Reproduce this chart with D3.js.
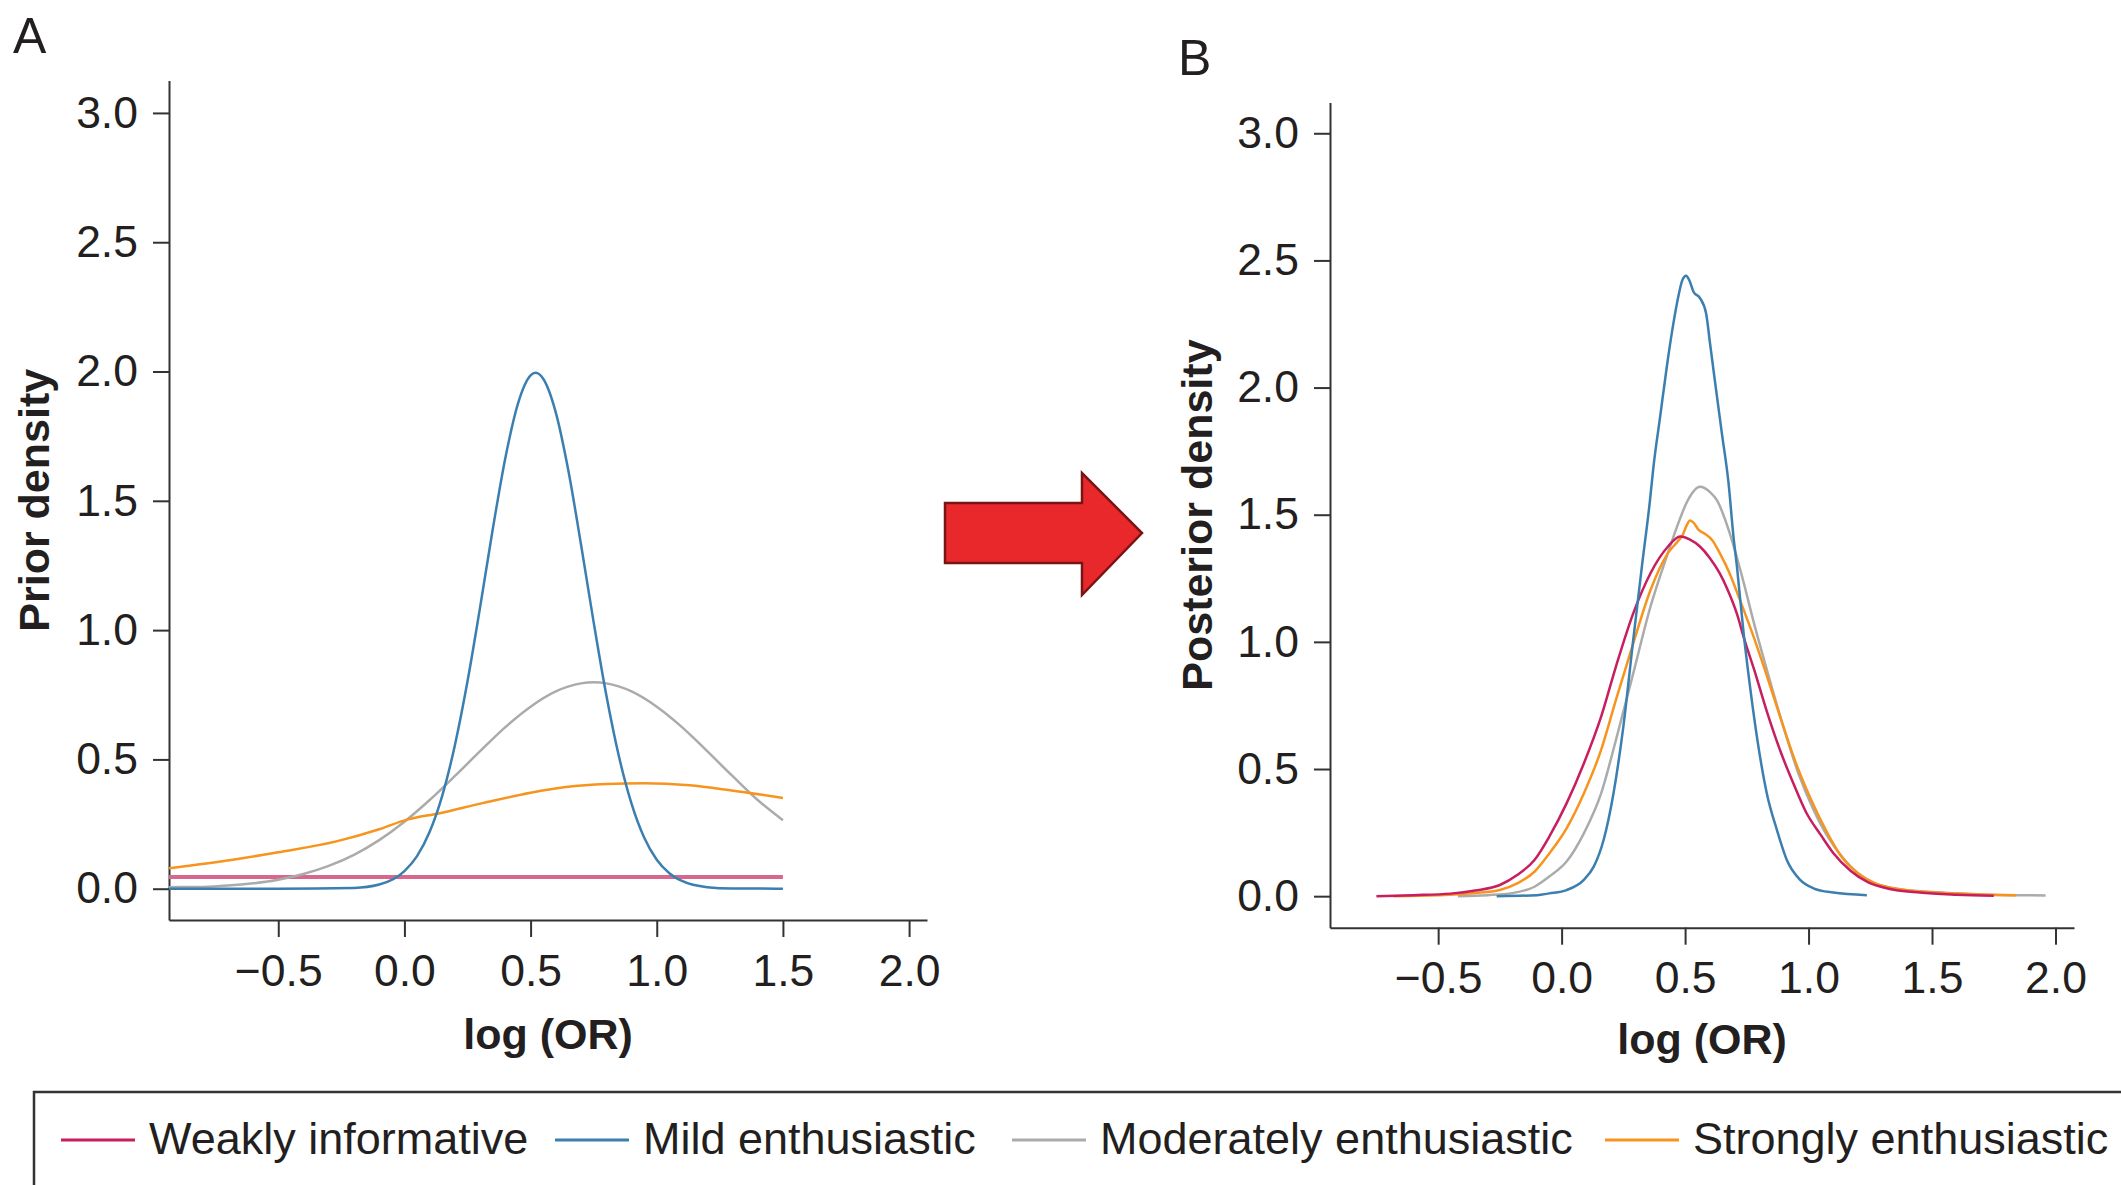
<!DOCTYPE html>
<html>
<head>
<meta charset="utf-8">
<script src="https://cdn.jsdelivr.net/npm/d3@7"></script>
<style>
  body { margin: 0; background: #fff; }
  svg { display: block; font-family: "Liberation Sans", Arial, Helvetica, sans-serif; }
  .tick text { fill: #231f20; }
</style>
</head>
<body>
<svg id="chart" width="2121" height="1185"></svg>
<script>
// tick values shared by both panels
const xTicks = [-0.5, 0, 0.5, 1, 1.5, 2];
const yTicks = [0, 0.5, 1, 1.5, 2, 2.5, 3];

const seriesNames = ["Weakly informative", "Mild enthusiastic", "Moderately enthusiastic", "Strongly enthusiastic"];

// panel A: prior densities, [log(OR), density]
const priorWeakly = [[-0.933, 0.045], [1.5, 0.045]];
const priorMild = [[-0.933, 0], [-0.5, 0], [-0.2, 0.003], [-0.1, 0.016], [0, 0.068], [0.05, 0.126], [0.1, 0.22],
  [0.15, 0.36], [0.2, 0.555], [0.25, 0.802], [0.3, 1.089], [0.35, 1.39], [0.4, 1.666], [0.45, 1.876], [0.5, 1.985],
  [0.52, 1.995], [0.55, 1.972], [0.6, 1.841], [0.65, 1.615], [0.7, 1.33], [0.75, 1.03], [0.8, 0.749], [0.85, 0.512],
  [0.9, 0.329], [0.95, 0.198], [1.0, 0.112], [1.05, 0.06], [1.1, 0.03], [1.2, 0.006], [1.3, 0.001], [1.5, 0]];
const priorModerately = [[-0.933, 0.006], [-0.8, 0.007], [-0.7, 0.012], [-0.6, 0.021], [-0.5, 0.035], [-0.4, 0.057],
  [-0.3, 0.088], [-0.2, 0.131], [-0.1, 0.188], [0, 0.259], [0.1, 0.343], [0.2, 0.436], [0.3, 0.532], [0.4, 0.625],
  [0.5, 0.704], [0.6, 0.763], [0.7, 0.794], [0.75, 0.798], [0.8, 0.794], [0.9, 0.763], [1.0, 0.704], [1.1, 0.625],
  [1.2, 0.532], [1.3, 0.436], [1.4, 0.343], [1.5, 0.265]];
const priorStrongly = [[-0.933, 0.079], [-0.68, 0.112], [-0.5, 0.141], [-0.27, 0.183], [-0.1, 0.23], [0.01, 0.267],
  [0.14, 0.292], [0.31, 0.331], [0.5, 0.371], [0.64, 0.393], [0.8, 0.405], [0.95, 0.408], [1.13, 0.4], [1.29, 0.381],
  [1.5, 0.351]];

// panel B: posterior densities
const postWeakly = [[-0.75, 0], [-0.6, 0.004], [-0.45, 0.01], [-0.35, 0.022], [-0.25, 0.044], [-0.18, 0.083],
  [-0.11, 0.142], [-0.05, 0.234], [0.02, 0.365], [0.09, 0.522], [0.16, 0.706], [0.22, 0.903], [0.29, 1.112],
  [0.36, 1.27], [0.43, 1.374], [0.48, 1.414], [0.52, 1.402], [0.56, 1.375], [0.6, 1.33], [0.64, 1.27], [0.67, 1.21],
  [0.71, 1.11], [0.74, 1.01], [0.78, 0.89], [0.83, 0.73], [0.89, 0.56], [0.94, 0.44], [0.99, 0.33], [1.05, 0.24],
  [1.1, 0.17], [1.17, 0.1], [1.24, 0.055], [1.32, 0.03], [1.45, 0.014], [1.6, 0.006], [1.75, 0.002]];
const postMild = [[-0.263, 0], [-0.1, 0.004], [-0.05, 0.011], [0.02, 0.024], [0.09, 0.064], [0.13, 0.116],
  [0.17, 0.221], [0.21, 0.404], [0.25, 0.667], [0.29, 1.008], [0.325, 1.296], [0.358, 1.558], [0.372, 1.689],
  [0.399, 1.886], [0.426, 2.082], [0.446, 2.213], [0.467, 2.331], [0.49, 2.425], [0.504, 2.44], [0.518, 2.42],
  [0.534, 2.377], [0.561, 2.351], [0.585, 2.292], [0.601, 2.174], [0.622, 2.017], [0.649, 1.82], [0.676, 1.624],
  [0.696, 1.414], [0.71, 1.296], [0.737, 1.034], [0.763, 0.824], [0.797, 0.588], [0.831, 0.404], [0.872, 0.26],
  [0.912, 0.142], [0.966, 0.064], [1.02, 0.031], [1.1, 0.014], [1.236, 0.004]];
const postModerately = [[-0.42, 0], [-0.3, 0.004], [-0.2, 0.012], [-0.11, 0.037], [-0.05, 0.077], [0.02, 0.136],
  [0.09, 0.247], [0.16, 0.404], [0.22, 0.614], [0.29, 0.876], [0.36, 1.139], [0.43, 1.348], [0.47, 1.46],
  [0.51, 1.555], [0.56, 1.61], [0.6, 1.59], [0.63, 1.555], [0.68, 1.43], [0.73, 1.26], [0.78, 1.07], [0.84, 0.86],
  [0.9, 0.66], [0.96, 0.48], [1.02, 0.34], [1.08, 0.23], [1.14, 0.15], [1.2, 0.09], [1.27, 0.05], [1.35, 0.03],
  [1.5, 0.016], [1.7, 0.007], [1.96, 0.003]];
const postStrongly = [[-0.68, 0], [-0.5, 0.004], [-0.35, 0.012], [-0.25, 0.024], [-0.18, 0.05], [-0.11, 0.096],
  [-0.05, 0.168], [0.02, 0.267], [0.09, 0.404], [0.16, 0.575], [0.22, 0.772], [0.29, 0.994], [0.36, 1.204],
  [0.43, 1.348], [0.47, 1.395], [0.49, 1.42], [0.505, 1.455], [0.52, 1.477], [0.535, 1.468], [0.555, 1.44],
  [0.58, 1.425], [0.61, 1.4], [0.64, 1.35], [0.68, 1.27], [0.72, 1.17], [0.77, 1.04], [0.83, 0.87], [0.89, 0.69],
  [0.95, 0.52], [1.01, 0.38], [1.07, 0.26], [1.13, 0.16], [1.2, 0.09], [1.27, 0.05], [1.35, 0.03], [1.45, 0.018],
  [1.64, 0.009], [1.84, 0.004]];

const colors = ["#c81d5e", "#3b7eb0", "#ababab", "#f7941d"];
const font = "\"Liberation Sans\", Arial, Helvetica, sans-serif";

const svg = d3.select("#chart");

function drawPanel(opts) {
    const x = d3.scaleLinear().domain(opts.xDomain).range([opts.left, opts.right]);
    const y = d3.scaleLinear().domain(opts.yDomain).range([opts.bottom, opts.top]);

    const g = svg.append("g");

    const xAxis = g.append("g")
        .attr("transform", `translate(0,${opts.bottom})`)
        .call(d3.axisBottom(x).tickValues(xTicks).tickFormat(d3.format(".1f"))
            .tickSize(17).tickPadding(17).tickSizeOuter(0));
    const yAxis = g.append("g")
        .attr("transform", `translate(${opts.left},0)`)
        .call(d3.axisLeft(y).tickValues(yTicks).tickFormat(d3.format(".1f"))
            .tickSize(16).tickPadding(15).tickSizeOuter(0));

    [xAxis, yAxis].forEach(a => {
        a.selectAll("path, line").attr("stroke", "#333").attr("stroke-width", 2);
        a.selectAll("text").style("font-size", "44.5px").style("font-family", font);
    });

    const line = d3.line()
        .x(d => x(d[0]))
        .y(d => y(d[1]))
        .curve(d3.curveMonotoneX);

    opts.series.forEach((s, i) => {
        g.append("path")
            .datum(s)
            .attr("fill", "none")
            .attr("stroke", opts.lineColors[i])
            .attr("stroke-width", opts.widths[i])
            .attr("d", line);
    });

    g.append("text")
        .attr("x", (opts.left + opts.right) / 2)
        .attr("y", opts.xLabelY)
        .attr("text-anchor", "middle")
        .style("font-size", "43px")
        .style("font-weight", "bold")
        .style("font-family", font)
        .attr("fill", "#231f20")
        .text("log (OR)");

    g.append("text")
        .attr("transform", `translate(${opts.yLabelX},${(opts.top + opts.bottom) / 2}) rotate(-90)`)
        .attr("text-anchor", "middle")
        .style("font-size", "43px")
        .style("font-weight", "bold")
        .style("font-family", font)
        .attr("fill", "#231f20")
        .text(opts.yLabel);

    g.append("text")
        .attr("x", opts.letterX)
        .attr("y", opts.letterY)
        .style("font-size", "50px")
        .style("font-family", font)
        .attr("fill", "#231f20")
        .text(opts.letter);
}

drawPanel({
    left: 169, right: 927, top: 80.6, bottom: 920,
    xDomain: [-0.933, 2.071], yDomain: [-0.121, 3.125],
    series: [priorWeakly, priorModerately, priorStrongly, priorMild],
    lineColors: ["#d9668f", colors[2], colors[3], colors[1]],
    widths: [4, 2.5, 2.5, 2.5],
    xLabelY: 1049, yLabelX: 49, yLabel: "Prior density",
    letter: "A", letterX: 13, letterY: 53
});

drawPanel({
    left: 1330, right: 2074, top: 102.5, bottom: 927.7,
    xDomain: [-0.938, 2.075], yDomain: [-0.124, 3.121],
    series: [postModerately, postStrongly, postWeakly, postMild],
    lineColors: [colors[2], colors[3], colors[0], colors[1]],
    widths: [2.5, 2.5, 2.5, 2.5],
    xLabelY: 1054, yLabelX: 1212, yLabel: "Posterior density",
    letter: "B", letterX: 1178, letterY: 75
});

// red arrow between the panels
svg.append("path")
    .attr("d", "M945,503 L1082,503 L1082,473 L1142,533 L1082,595 L1082,563 L945,563 Z")
    .attr("fill", "#e8282b")
    .attr("stroke", "#7a1414")
    .attr("stroke-width", 2.5)
    .attr("stroke-linejoin", "miter");

// legend box, open to the right and bottom like the cropped original
svg.append("rect")
    .attr("x", 34).attr("y", 1092)
    .attr("width", 2200).attr("height", 200)
    .attr("fill", "none")
    .attr("stroke", "#333")
    .attr("stroke-width", 2.5);

const legendStarts = [61, 555, 1012, 1605];
const legend = svg.append("g")
    .selectAll("g")
    .data(seriesNames)
    .enter().append("g")
    .attr("transform", (d, i) => `translate(${legendStarts[i]},1140)`);

legend.append("line")
    .attr("x1", 0).attr("x2", 74)
    .attr("stroke", (d, i) => colors[i])
    .attr("stroke-width", 3);

legend.append("text")
    .attr("x", 88)
    .attr("y", 14)
    .style("font-size", "45px")
    .style("font-family", font)
    .attr("fill", "#231f20")
    .text(d => d);
</script>
</body>
</html>
